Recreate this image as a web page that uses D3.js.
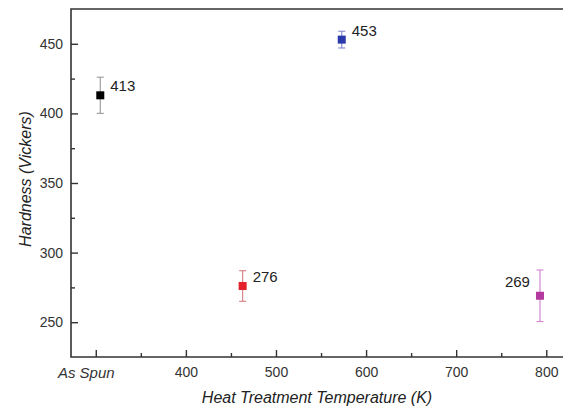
<!DOCTYPE html>
<html>
<head>
<meta charset="utf-8">
<script src="https://cdnjs.cloudflare.com/ajax/libs/d3/7.8.5/d3.min.js"></script>
<style>
  body { margin: 0; background: #fff; }
  svg { display: block; font-family: "Liberation Sans", Arial, sans-serif; }
</style>
</head>
<body>
<div id="chart"></div>
<script>
// hardness vs heat treatment temperature
var samples = ["As Spun", "463 K", "573 K", "793 K"];
var temps = [305, 463, 573, 793];
var hardness = [413, 276, 453, 269];
var errors = [13, 11, 6, 18.5];
var colors = ["#000000", "#e3202b", "#2b3aab", "#b4399f"];
var barColors = ["#a0a0a0", "#d9868c", "#8a8fd2", "#d58ad0"];
var xTicks = [300, 400, 500, 600, 700, 800];
var xMinor = [350, 450, 550, 650, 750];
var yTicks = [250, 300, 350, 400, 450];
var yMinor = [275, 325, 375, 425];

var width = 563, height = 407;
var margin = {top: 9, left: 71, bottom: 50};

var svg = d3.select("#chart").append("svg")
    .attr("width", width)
    .attr("height", height);

var x = d3.scaleLinear()
    .domain([272.5, 825])
    .range([margin.left, margin.left + (825 - 272.5) * 0.901]);

var y = d3.scaleLinear()
    .domain([225, 475])
    .range([height - margin.bottom, margin.top]);

var axisColor = "#333";

// frame: left, top, bottom (right side runs off the picture)
var x0 = x.range()[0], y0 = y.range()[0], y1 = y.range()[1];
svg.append("path")
    .attr("d", "M" + width + "," + y1 + "H" + x0 + "V" + y0 + "H" + width)
    .attr("fill", "none")
    .attr("stroke", axisColor)
    .attr("stroke-width", 1.6);

// x axis, ticks point inward
var xAxis = svg.append("g")
    .attr("transform", "translate(0," + y0 + ")")
    .call(d3.axisBottom(x).tickValues(xTicks)
        .tickSizeInner(-7).tickSizeOuter(0).tickPadding(10)
        .tickFormat(function(d) { return d === 300 ? "As Spun" : d; }));

svg.append("g")
    .attr("transform", "translate(0," + y0 + ")")
    .call(d3.axisBottom(x).tickValues(xMinor)
        .tickSizeInner(-4).tickSizeOuter(0).tickFormat(""));

// y axis, ticks point inward
svg.append("g")
    .attr("transform", "translate(" + x0 + ",0)")
    .call(d3.axisLeft(y).tickValues(yTicks)
        .tickSizeInner(-7).tickSizeOuter(0).tickPadding(8));

svg.append("g")
    .attr("transform", "translate(" + x0 + ",0)")
    .call(d3.axisLeft(y).tickValues(yMinor)
        .tickSizeInner(-4).tickSizeOuter(0).tickFormat(""));

svg.selectAll(".domain").remove();
svg.selectAll(".tick line").attr("stroke", axisColor).attr("stroke-width", 1.4);
svg.selectAll(".tick text").attr("fill", "#333").attr("font-size", 14).attr("font-family", null);

xAxis.selectAll(".tick text")
    .filter(function(d) { return d === 300; })
    .attr("dx", -10)
    .attr("font-style", "italic")
    .attr("font-size", 15);

// axis titles
svg.append("text")
    .attr("x", (x0 + width) / 2)
    .attr("y", 403)
    .attr("text-anchor", "middle")
    .attr("font-style", "italic")
    .attr("font-size", 16)
    .attr("fill", "#222")
    .text("Heat Treatment Temperature (K)");

svg.append("text")
    .attr("transform", "translate(31," + 179 + ") rotate(-90)")
    .attr("text-anchor", "middle")
    .attr("font-style", "italic")
    .attr("font-size", 16)
    .attr("fill", "#222")
    .text("Hardness (Vickers)");

// points with error bars
var pts = samples.map(function(s, i) {
    return {name: s, t: temps[i], h: hardness[i], e: errors[i], c: colors[i], bc: barColors[i]};
});

var g = svg.selectAll(".pt")
    .data(pts)
    .enter().append("g")
    .attr("class", "pt");

g.append("line")
    .attr("x1", function(d) { return x(d.t); })
    .attr("x2", function(d) { return x(d.t); })
    .attr("y1", function(d) { return y(d.h + d.e); })
    .attr("y2", function(d) { return y(d.h - d.e); })
    .attr("stroke", function(d) { return d.bc; })
    .attr("stroke-width", 1.2);

[1, -1].forEach(function(sign) {
    g.append("line")
        .attr("x1", function(d) { return x(d.t) - 3.5; })
        .attr("x2", function(d) { return x(d.t) + 3.5; })
        .attr("y1", function(d) { return y(d.h + sign * d.e); })
        .attr("y2", function(d) { return y(d.h + sign * d.e); })
        .attr("stroke", function(d) { return d.bc; })
        .attr("stroke-width", 1.2);
});

g.append("rect")
    .attr("x", function(d) { return x(d.t) - 4; })
    .attr("y", function(d) { return y(d.h) - 4; })
    .attr("width", 8)
    .attr("height", 8)
    .attr("fill", function(d) { return d.c; });

// value labels
g.append("text")
    .attr("x", function(d, i) { return x(d.t) + (i === 3 ? -10 : 10); })
    .attr("y", function(d, i) { return y(d.h) + (i === 3 ? -9 : -4); })
    .attr("text-anchor", function(d, i) { return i === 3 ? "end" : "start"; })
    .attr("font-size", 15)
    .attr("fill", "#222")
    .text(function(d) { return d.h; });
</script>
</body>
</html>
